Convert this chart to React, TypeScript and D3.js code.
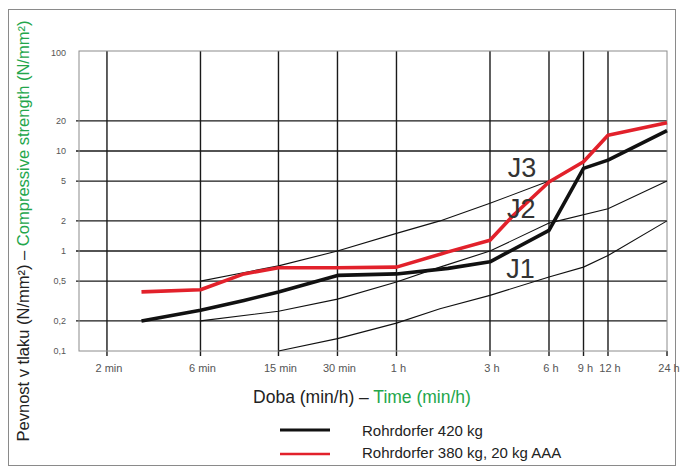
import React from "react";
import * as d3 from "d3";

// time in minutes, strength in N/mm²
const timeTicks = [2, 6, 15, 30, 60, 180, 360, 540, 720, 1440];
const timeLabels = ["2 min", "6 min", "15 min", "30 min", "1 h", "3 h", "6 h", "9 h", "12 h", "24 h"];
const strengthTicks = [100, 20, 10, 5, 2, 1, 0.5, 0.2, 0.1];
const strengthLabels = ["100", "20", "10", "5", "2", "1", "0,5", "0,2", "0,1"];

const blackTimes = [3, 6, 10, 15, 30, 60, 110, 180, 360, 540, 720, 1440];
const blackValues = [0.2, 0.255, 0.32, 0.39, 0.57, 0.59, 0.67, 0.78, 1.61, 6.7, 8.1, 16];

const redTimes = [3, 6, 10, 15, 30, 60, 110, 180, 237, 360, 540, 720, 1440];
const redValues = [0.39, 0.41, 0.59, 0.68, 0.68, 0.69, 0.98, 1.28, 2.28, 4.9, 7.8, 14.4, 19.2];

// class boundary curves J1 / J2 / J3
const j3Times = [6, 15, 30, 60, 100, 180, 360];
const j3Values = [0.5, 0.71, 1.0, 1.5, 2.0, 3.0, 5.0];
const j2Times = [6, 15, 30, 60, 100, 180, 360, 720, 1440];
const j2Values = [0.2, 0.25, 0.33, 0.49, 0.69, 1.0, 1.9, 2.65, 5];
const j1Times = [15, 30, 60, 100, 180, 360, 540, 720, 1440];
const j1Values = [0.1, 0.133, 0.19, 0.265, 0.36, 0.55, 0.69, 0.9, 2.0];

const classLabels = ["J1", "J2", "J3"];
const classLabelTimes = [218, 220, 222];
const classLabelValues = [0.54, 2.14, 5.5];

const legendLabels = ["Rohrdorfer 420 kg", "Rohrdorfer 380 kg, 20 kg AAA"];

const W = 681;
const H = 470;
const FONT = "'Liberation Sans', Arial, Helvetica, sans-serif";
const GREEN = "#23a64b";
const RED = "#e2212b";

const x = d3.scaleLog().domain([1.44, 1440]).range([79, 667]);
const y = d3.scaleLog().domain([0.1, 100]).range([351, 51]);

const line = d3
  .line<[number, number]>()
  .x((d) => x(d[0]))
  .y((d) => y(d[1]));

const zip = (t: number[], v: number[]) => t.map((d, i) => [d, v[i]] as [number, number]);

export default function App() {
  const [x0, x1] = x.range();
  const [y0, y1] = y.range();
  const inner = strengthTicks.filter((v) => v !== 100 && v !== 0.1);

  return (
    <div style={{ position: "absolute", left: 0, top: 0 }}>
      <svg width={W} height={H} style={{ display: "block", background: "#fff" }} fontFamily={FONT}>
        {/* outer frame */}
        <rect x={8.5} y={9.5} width={667} height={456} fill="none" stroke="#8a8a8a" strokeWidth={1} />

        {/* grid */}
        {inner.map((v) => (
          <line key={"h" + v} x1={x0 - 3} x2={x1} y1={y(v)} y2={y(v)} stroke="#1a1a1a" strokeWidth={1.4} />
        ))}
        {timeTicks.map((t) => (
          <line
            key={"v" + t}
            x1={x(t)}
            x2={x(t)}
            y1={t === 1440 ? y0 : y1}
            y2={y0 + 5}
            stroke="#1a1a1a"
            strokeWidth={1.4}
          />
        ))}
        <rect x={x0} y={y1} width={x1 - x0} height={y0 - y1} fill="none" stroke="#8c8c8c" strokeWidth={1} />

        {/* tick labels */}
        {strengthTicks.map((v, i) => (
          <text key={"yl" + v} x={66} y={y(v)} dy={v === 100 ? "0.6em" : "0.35em"} textAnchor="end" fontSize={9} fill="#555">
            {strengthLabels[i]}
          </text>
        ))}
        {timeTicks.map((t, i) => (
          <text key={"xl" + t} x={x(t) + 2} y={372} textAnchor="middle" fontSize={11} fill="#555">
            {timeLabels[i]}
          </text>
        ))}

        {/* class boundaries */}
        {[zip(j3Times, j3Values), zip(j2Times, j2Values), zip(j1Times, j1Values)].map((d, i) => (
          <path key={"j" + i} d={line(d) || ""} fill="none" stroke="#111" strokeWidth={1.1} />
        ))}

        {/* series */}
        <path d={line(zip(blackTimes, blackValues)) || ""} fill="none" stroke="#111" strokeWidth={3.6} strokeLinejoin="round" />
        <path d={line(zip(redTimes, redValues)) || ""} fill="none" stroke={RED} strokeWidth={3.6} strokeLinejoin="round" />

        {classLabels.map((l, i) => (
          <text key={l} x={x(classLabelTimes[i])} y={y(classLabelValues[i])} fontSize={27} fill="#333">
            {l}
          </text>
        ))}

        {/* axis titles */}
        <text x={362} y={403} textAnchor="middle" fontSize={17.5} fill="#222">
          Doba (min/h) – <tspan fill={GREEN}>Time (min/h)</tspan>
        </text>
        <text transform="translate(29,231) rotate(-90)" textAnchor="middle" fontSize={16.5} fill="#222">
          Pevnost v tlaku (N/mm²) – <tspan fill={GREEN}>Compressive strength (N/mm²)</tspan>
        </text>

        {/* legend */}
        <line x1={280} x2={330} y1={430} y2={430} stroke="#111" strokeWidth={3} />
        <line x1={280} x2={330} y1={454} y2={454} stroke={RED} strokeWidth={2.4} />
        {legendLabels.map((l, i) => (
          <text key={l} x={362} y={436 + i * 22} fontSize={15} fill="#222">
            {l}
          </text>
        ))}
      </svg>
    </div>
  );
}
